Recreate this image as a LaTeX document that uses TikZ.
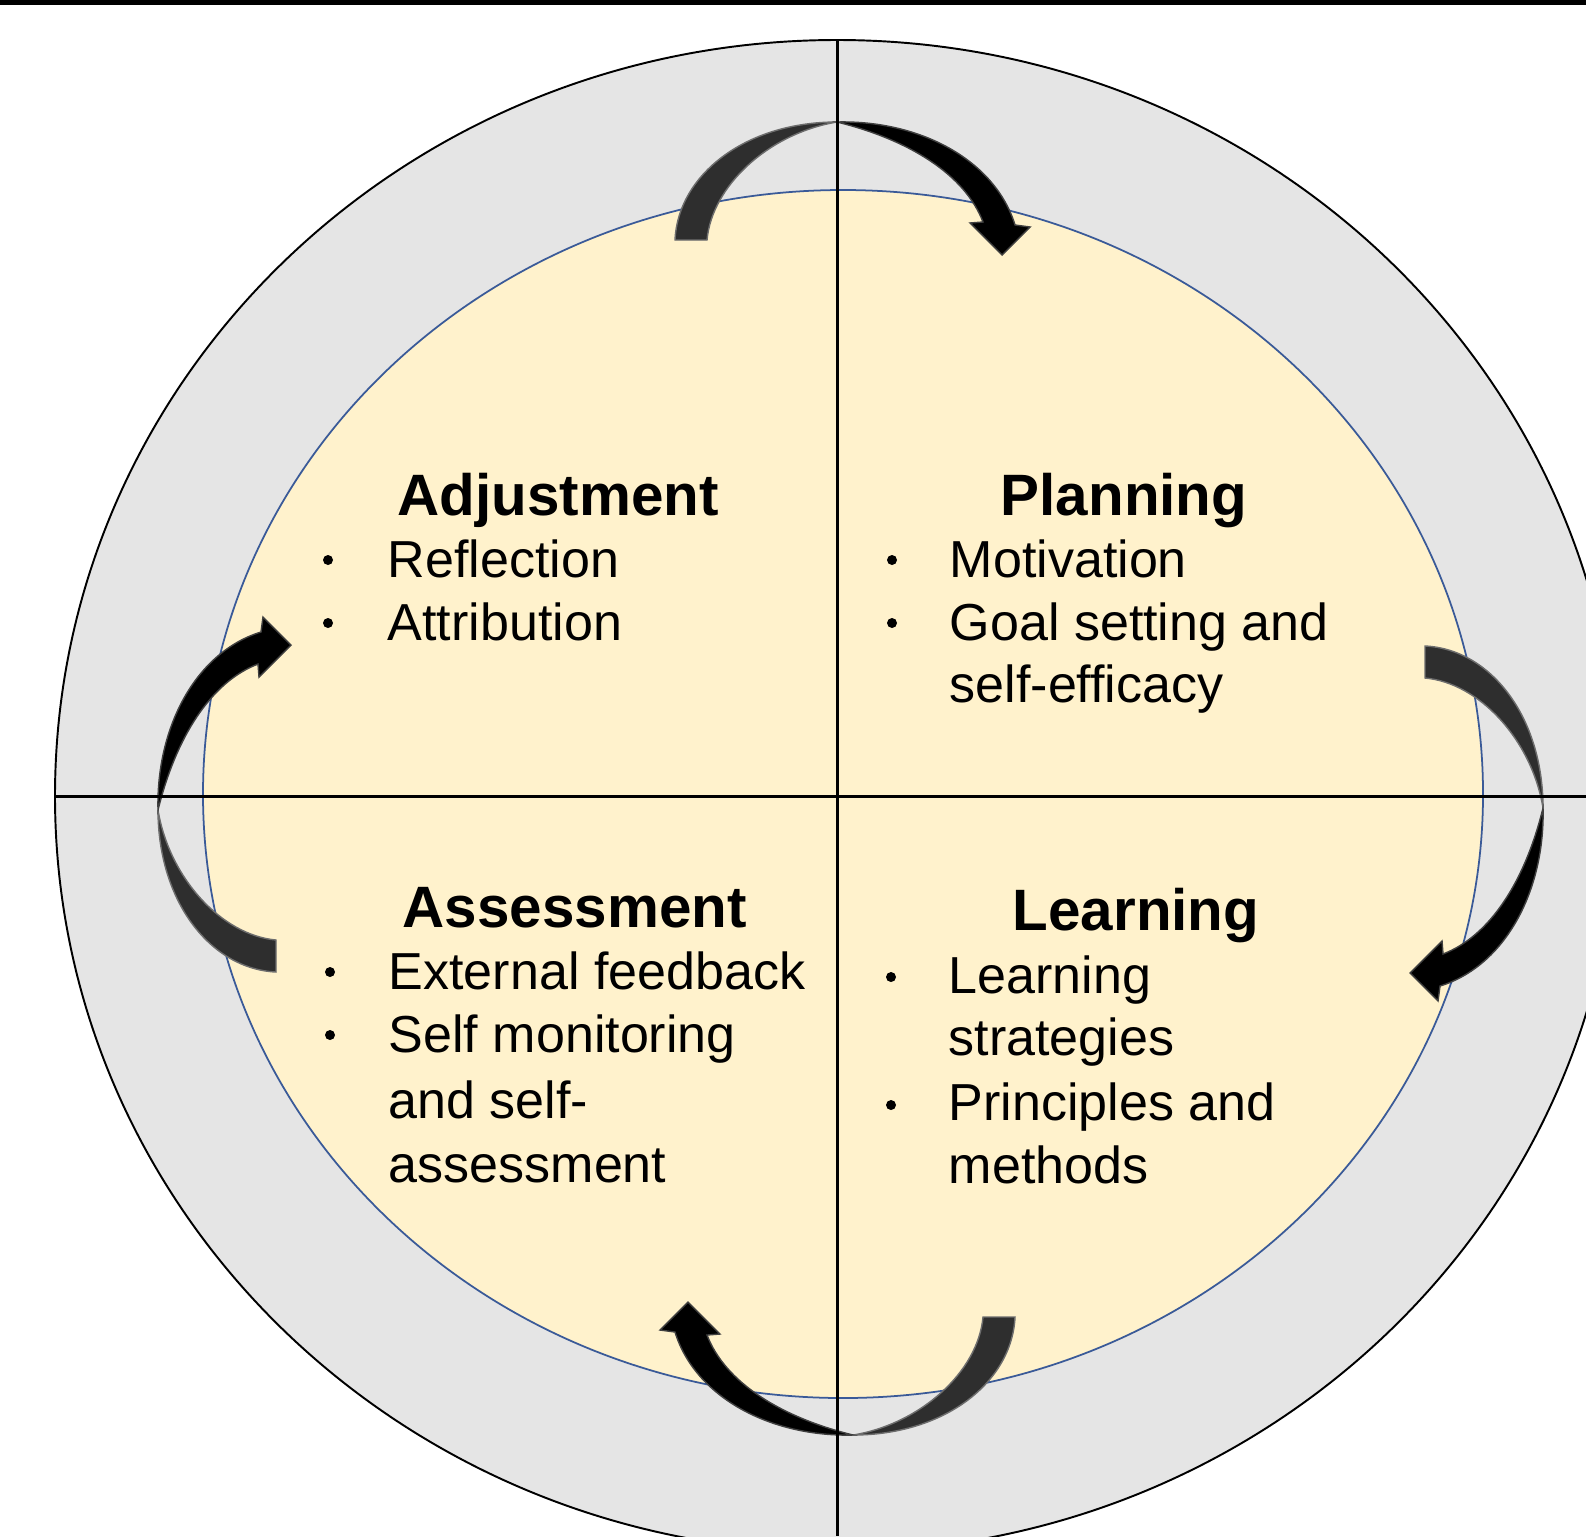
\documentclass[tikz,border=0pt]{standalone}
\usepackage{fontspec}
\setmainfont{Liberation Sans}

\definecolor{ringgray}{HTML}{E5E5E5}
\definecolor{cream}{HTML}{FFF2CC}
\definecolor{rimblue}{HTML}{3A5A98}
\definecolor{tailgray}{HTML}{2E2E2E}

% One curved cycle arrow: apex (thinnest point) at (#1,#2), turned by #3.
% Local frame: apex at origin, arrow runs along +x, +y points inward.
\newcommand\cyclearrow[3]{%
  \begin{scope}[shift={(#1,#2)},rotate=#3]
    \fill[tailpart] (-162,118) .. controls (-159,53) and (-92,0) .. (0,0)
      .. controls (-67,11) and (-125,63) .. (-130,118) -- cycle;
    \fill[headpart] (0,0) .. controls (83,-2) and (158,38) .. (178,103)
      -- (193,105) -- (165,133) -- (133,101) -- (146,100)
      .. controls (128,53) and (73,18) .. (0,0) -- cycle;
  \end{scope}}

\begin{document}
\begin{tikzpicture}[x=0.01cm,y=-0.01cm,
  heading/.style={anchor=base west,inner sep=0pt,
    font=\fontsize{16.6pt}{20pt}\selectfont\bfseries},
  item/.style={anchor=base west,inner sep=0pt,
    font=\fontsize{14.8pt}{18pt}\selectfont},
  dot/.style={circle,fill=black,inner sep=0pt,minimum size=0.1cm},
  tailpart/.style={fill=tailgray,draw=tailgray!70,line width=0.4pt},
  headpart/.style={fill=black,draw=black!75,line width=0.4pt},
  axis/.style={line width=0.85pt,black}]

\useasboundingbox (0,0) rectangle (1586,1536);
\clip (0,0) rectangle (1586,1536);

% outer grey ring and inner cream disc
\filldraw[fill=ringgray,draw=black,line width=0.55pt]
  (837,796) ellipse [x radius=782, y radius=756];
\filldraw[fill=cream,draw=rimblue,line width=0.5pt]
  (843,794) ellipse [x radius=640, y radius=604];

% rule along the top edge
\fill[black] (0,0) rectangle (1586,5);

% clockwise cycle arrows
\cyclearrow{837}{122}{0}
\cyclearrow{1543}{808}{-90}
\cyclearrow{853}{1435}{180}
\cyclearrow{158}{810}{90}

% quadrant axes
\coordinate (axtop) at (837,40);
\coordinate (axbottom) at (837,1536);
\coordinate (axleft) at (55,796);
\coordinate (axright) at (1586,796);
\draw[axis] (axtop) -- (axbottom);
\draw[axis] (axleft) -- (axright);

% Adjustment
\node[heading] (adjh) at (397,515) {Adjustment};
\node[dot] (adjb1) at (328,560) {};
\node[item] (adj1) at (387,577) {Reflection};
\node[dot] (adjb2) at (328,623) {};
\node[item] (adj2) at (387,640) {Attribution};

% Planning
\node[heading] (planh) at (1000,515) {Planning};
\node[dot] (planb1) at (892,560) {};
\node[item] (plan1) at (949,577) {Motivation};
\node[dot] (planb2) at (892,623) {};
\node[item] (plan2) at (949,640) {Goal setting and};
\node[item] (plan3) at (949,702) {self-efficacy};

% Assessment
\node[heading] (assh) at (402,927) {Assessment};
\node[dot] (assb1) at (330,972) {};
\node[item] (ass1) at (388,989) {External feedback};
\node[dot] (assb2) at (330,1035) {};
\node[item] (ass2) at (388,1052) {Self monitoring};
\node[item] (ass3) at (388,1118) {and self-};
\node[item] (ass4) at (388,1182) {assessment};

% Learning
\node[heading] (learnh) at (1012,930) {Learning};
\node[dot] (learnb1) at (891,977) {};
\node[item] (learn1) at (948,993) {Learning};
\node[item] (learn2) at (948,1055) {strategies};
\node[dot] (learnb2) at (891,1105) {};
\node[item] (learn3) at (948,1120) {Principles and};
\node[item] (learn4) at (948,1183) {methods};
\end{tikzpicture}
\end{document}
